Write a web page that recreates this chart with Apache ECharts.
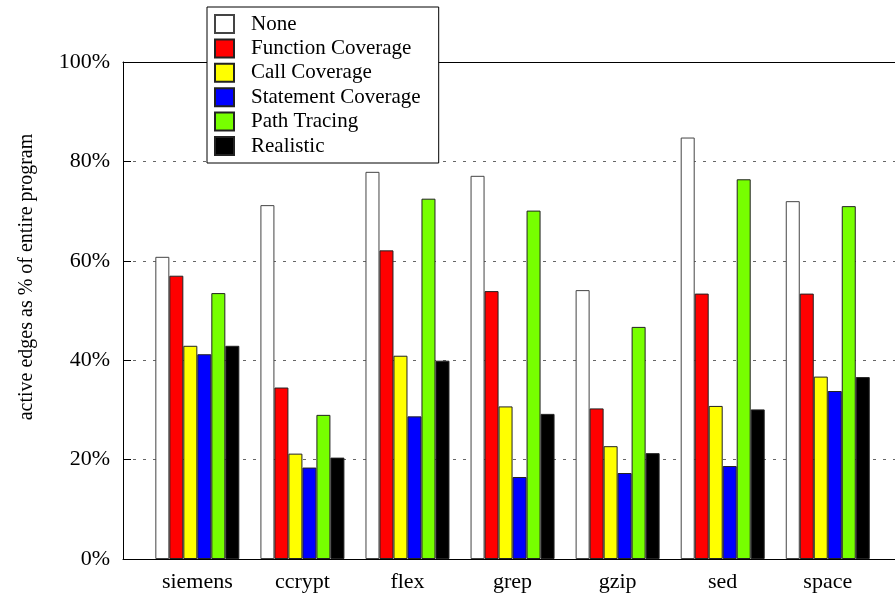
<!DOCTYPE html>
<html>
<head>
<meta charset="utf-8">
<script src="https://cdn.jsdelivr.net/npm/echarts@6/dist/echarts.min.js"></script>
<style>
  html, body { margin: 0; padding: 0; background: #fff; }
  #chart { width: 895px; height: 599px; }
</style>
</head>
<body>
<div id="chart"></div>
<script>
// Benchmark programs and the share of edges active under each instrumentation scheme (%)
const programs = ['siemens', 'ccrypt', 'flex', 'grep', 'gzip', 'sed', 'space'];
const schemeNames = ['None', 'Function Coverage', 'Call Coverage', 'Statement Coverage', 'Path Tracing', 'Realistic'];
const noneVals      = [60.8, 71.2, 77.9, 77.1, 54.1, 84.8, 72.0];
const functionVals  = [57.0, 34.5, 62.1, 53.9, 30.3, 53.4, 53.4];
const callVals      = [42.9, 21.2, 40.9, 30.7, 22.7, 30.8, 36.7];
const statementVals = [41.2, 18.4, 28.7, 16.5, 17.3, 18.7, 33.8];
const pathVals      = [53.5, 29.0, 72.5, 70.1, 46.7, 76.4, 71.0];
const realisticVals = [42.9, 20.4, 39.9, 29.2, 21.3, 30.1, 36.6];
const yTickValues   = [0, 20, 40, 60, 80, 100];

const schemeValues = [noneVals, functionVals, callVals, statementVals, pathVals, realisticVals];
const schemeColors = ['#ffffff', '#ff0000', '#ffff00', '#0000ff', '#77ff00', '#000000'];
const serif = "'Liberation Serif', 'DejaVu Serif', 'Times New Roman', serif";

const chart = echarts.init(document.getElementById('chart'), null, { renderer: 'canvas' });

const series = schemeNames.map((name, i) => ({
  name: name,
  type: 'bar',
  xAxisIndex: 2,
  yAxisIndex: 1,
  data: schemeValues[i],
  barWidth: 14,
  barGap: '0%',
  itemStyle: {
    color: schemeColors[i],
    borderColor: i === 0 ? '#444' : '#222',
    borderWidth: 1
  },
  emphasis: { disabled: true }
}));

chart.setOption({
  animation: false,
  backgroundColor: '#fff',
  grid: [
    // frame: y axis, dotted grid lines, top and bottom borders
    { left: 123, right: -20, top: 62, bottom: 40 },
    // bar clusters
    { left: 144.8, right: 14.7, top: 62, bottom: 40 }
  ],
  xAxis: [
    { gridIndex: 0, type: 'value', min: 0, max: 1, position: 'bottom',
      axisLine: { show: true, lineStyle: { color: '#000', width: 1 } },
      axisTick: { show: false }, axisLabel: { show: false }, splitLine: { show: false } },
    { gridIndex: 0, type: 'value', min: 0, max: 1, position: 'top',
      axisLine: { show: true, lineStyle: { color: '#000', width: 1 } },
      axisTick: { show: false }, axisLabel: { show: false }, splitLine: { show: false } },
    { gridIndex: 1, type: 'category', data: programs,
      axisLine: { show: false }, axisTick: { show: false },
      axisLabel: { color: '#000', fontFamily: serif, fontSize: 22, margin: 12 } }
  ],
  yAxis: [
    { gridIndex: 0, type: 'value', min: 0, max: 100, interval: 20,
      axisLine: { show: true, lineStyle: { color: '#000', width: 1 } },
      axisTick: { show: true, inside: true, length: 8, lineStyle: { color: '#000' } },
      axisLabel: {
        color: '#000', fontFamily: serif, fontSize: 22, margin: 13,
        formatter: v => (yTickValues.indexOf(v) >= 0 ? v + '%' : '')
      },
      splitLine: { show: true, lineStyle: { color: '#666', width: 1, type: [3, 7] } } },
    { gridIndex: 1, type: 'value', min: 0, max: 100, show: false }
  ],
  legend: {
    data: schemeNames,
    orient: 'vertical',
    left: 207,
    top: 7,
    padding: [6.5, 18, 6.5, 7],
    itemWidth: 19,
    itemHeight: 18,
    itemGap: 3.4,
    icon: 'rect',
    selectedMode: false,
    backgroundColor: '#fff',
    borderColor: '#000',
    borderWidth: 1,
    borderRadius: 0,
    z: 10,
    textStyle: { color: '#000', fontFamily: serif, fontSize: 21, padding: [0, 0, 0, 12] }
  },
  graphic: [{
    type: 'text',
    x: 27,
    y: 277,
    rotation: Math.PI / 2,
    style: {
      text: 'active edges as % of entire program',
      fill: '#000',
      font: '20px ' + serif,
      textAlign: 'center',
      textVerticalAlign: 'middle'
    }
  }],
  series: series
});
</script>
</body>
</html>
